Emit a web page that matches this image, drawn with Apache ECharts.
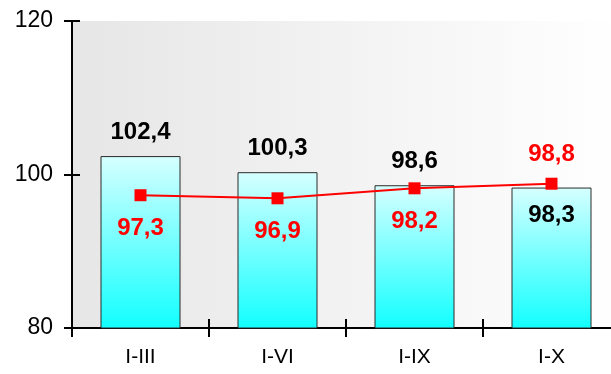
<!DOCTYPE html>
<html><head><meta charset="utf-8">
<script src="https://cdn.jsdelivr.net/npm/echarts@6/dist/echarts.min.js"></script>
<style>html,body{margin:0;padding:0;background:#fff;overflow:hidden}#c{width:611px;height:374px}</style>
</head><body><div id="c"></div>
<script>
const categories = ['I-III', 'I-VI', 'I-IX', 'I-X'];
const barValues = [102.4, 100.3, 98.6, 98.3];
const lineValues = [97.3, 96.9, 98.2, 98.8];
const barLabelPos = ['top', 'top', 'top', 'insideTop'];
const lineLabelPos = ['bottom', 'bottom', 'bottom', 'top'];

const fmt = p => String(p.value).replace('.', ',');
const font = '"Liberation Sans", Arial, sans-serif';
const chart = echarts.init(document.getElementById('c'), null, {renderer: 'canvas'});
const axisBase = {
  axisLine: {show: true, lineStyle: {color: '#000', width: 2}},
  splitLine: {show: false}
};
chart.setOption({
  animation: false,
  grid: {left: 72, right: -9, top: 21, bottom: 46, show: true, borderWidth: 0,
    outerBoundsMode: 'none', containLabel: false,
    backgroundColor: new echarts.graphic.LinearGradient(0, 0, 1, 0, [
      {offset: 0, color: '#e6e6e6'}, {offset: 1, color: '#ffffff'}])},
  xAxis: [
    Object.assign({type: 'category', data: categories,
      axisTick: {show: true, length: 9, lineStyle: {color: '#000', width: 2}},
      axisLabel: {fontFamily: font, fontSize: 21, color: '#000', margin: 19}}, axisBase),
    Object.assign({type: 'category', data: categories, position: 'bottom',
      axisTick: {show: true, inside: true, length: 9, lineStyle: {color: '#000', width: 2}},
      axisLabel: {show: false}}, axisBase)
  ],
  yAxis: [
    Object.assign({type: 'value', min: 80, max: 120, interval: 20,
      axisTick: {show: true, length: 8, lineStyle: {color: '#000', width: 2}},
      axisLabel: {fontFamily: font, fontSize: 23, color: '#000', margin: 19}}, axisBase),
    Object.assign({type: 'value', min: 80, max: 120, interval: 20, position: 'left',
      axisTick: {show: true, inside: true, length: 8, lineStyle: {color: '#000', width: 2}},
      axisLabel: {show: false}}, axisBase)
  ],
  series: [
    {type: 'bar', barWidth: 80, xAxisIndex: 0, yAxisIndex: 0,
      data: barValues.map((v, i) => ({value: v, label: {position: barLabelPos[i], distance: i === 3 ? 16 : 12}})),
      itemStyle: {borderColor: '#2a2a2a', borderWidth: 1,
        color: new echarts.graphic.LinearGradient(0, 0, 0, 1, [
          {offset: 0, color: '#d6ffff'}, {offset: 1, color: '#12ffff'}])},
      label: {show: true, formatter: fmt, fontFamily: font, fontSize: 24, fontWeight: 'bold', color: '#000'}},
    {type: 'line', xAxisIndex: 0, yAxisIndex: 0,
      data: lineValues.map((v, i) => ({value: v, label: {position: lineLabelPos[i], distance: i === 3 ? 11 : 15}})),
      symbol: 'rect', symbolSize: 12,
      lineStyle: {color: '#ff0000', width: 2}, itemStyle: {color: '#ff0000'},
      label: {show: true, formatter: fmt, fontFamily: font, fontSize: 24, fontWeight: 'bold', color: '#ff0000'}}
  ]
});
</script></body></html>
